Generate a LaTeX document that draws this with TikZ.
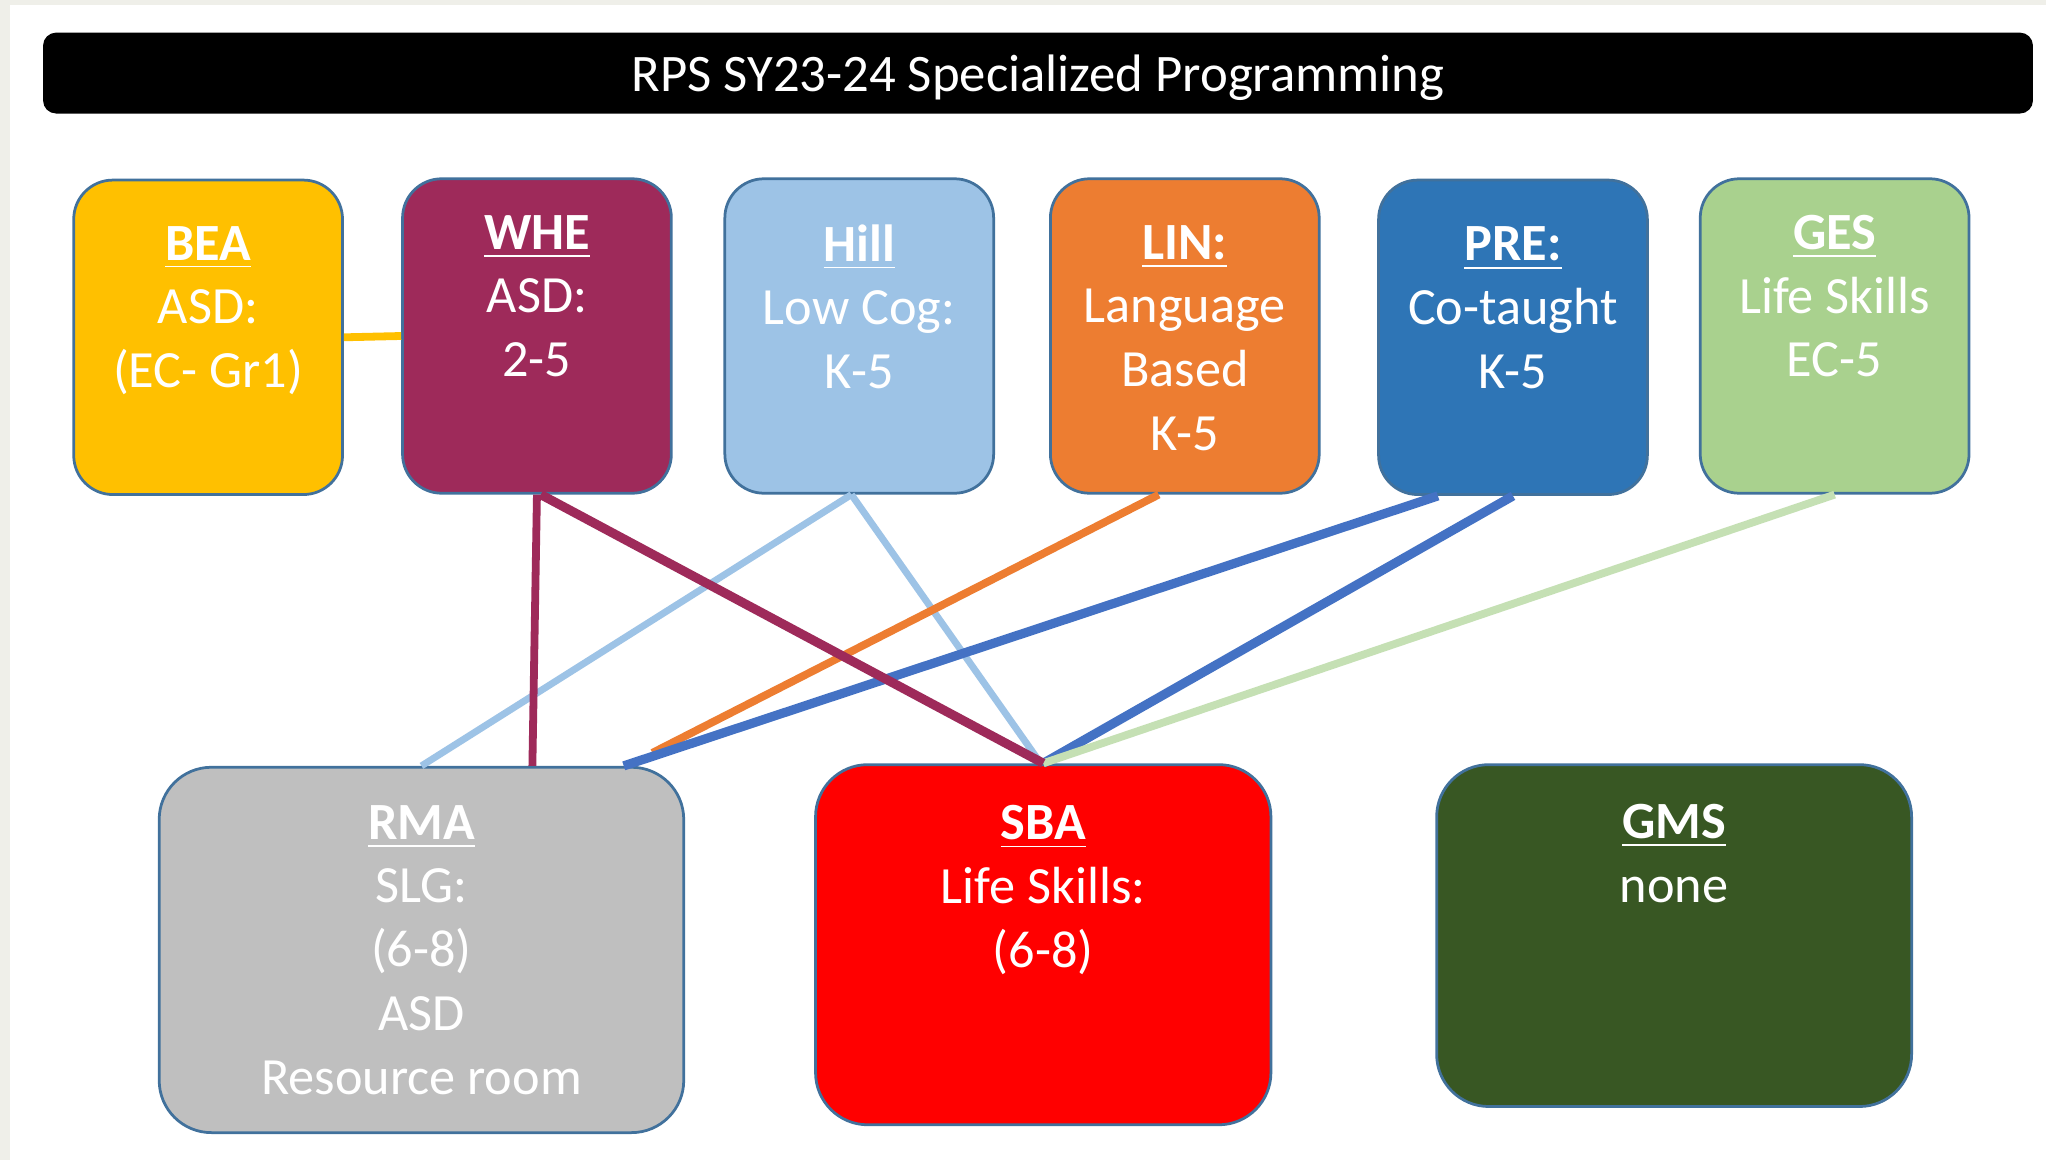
\documentclass[tikz,border=0pt]{standalone}
\usepackage{fontspec}
\setmainfont{Carlito}
\usetikzlibrary{calc}
\definecolor{bea}{HTML}{FFC000}
\definecolor{whe}{HTML}{9E2A5A}
\definecolor{hill}{HTML}{9DC3E6}
\definecolor{lin}{HTML}{ED7D31}
\definecolor{pre}{HTML}{2E75B6}
\definecolor{ges}{HTML}{A9D18E}
\definecolor{rma}{HTML}{BFBFBF}
\definecolor{sba}{HTML}{FF0000}
\definecolor{gms}{HTML}{385723}
\definecolor{edge}{HTML}{41719C}
\definecolor{preline}{HTML}{4472C4}
\definecolor{gesline}{HTML}{C5E0B4}
\definecolor{pageedge}{HTML}{EFEFE9}

\begin{document}
\begin{tikzpicture}[x=1cm, y=-1cm, line join=round,
		school/.style={draw=edge, line width=0.6pt, rounded corners=0.3cm, minimum width=2.06cm, minimum height=2.41cm, inner sep=0pt},
		bigschool/.style={school, rounded corners=0.4cm},
		names/.style={text=white, align=center, inner sep=0pt, font=\fontsize{11.4}{13.9}\selectfont},
		link/.style={line width=1.7pt, line cap=butt}]
	
	% ===== page and title bar =====
	\fill[pageedge] (0,0) rectangle (15.68,8.89);
	\fill[white] (0.08,0.04) rectangle (15.68,8.89);
	\useasboundingbox (0,0) rectangle (15.68,8.89);
	\node[fill=black, rounded corners=0.1cm, minimum width=15.25cm, minimum height=0.62cm, inner sep=0pt, text depth=0pt, text=white, font=\fontsize{11.5}{13}\selectfont] (title) at (7.955,0.56) {RPS SY23-24 Specialized Programming};
	
	% ===== elementary schools =====
	\node[school, fill=bea] (BEA) at (1.595,2.585) {};
	\node[names] (BEAtxt) at (1.595,2.38) {\underline{\textbf{BEA}}\\ASD:\\(EC- Gr1)};
	\node[school, fill=whe] (WHE) at (4.115,2.575) {};
	\node[names] (WHEtxt) at (4.115,2.27) {\underline{\textbf{WHE}}\\ASD:\\2-5};
	\node[school, fill=hill] (Hill) at (6.585,2.575) {};
	\node[names] (Hilltxt) at (6.585,2.35) {\underline{\textbf{Hill}}\\Low Cog:\\K-5};
	\node[school, fill=lin] (LIN) at (9.08,2.575) {};
	\node[names] (LINtxt) at (9.08,2.59) {\underline{\textbf{LIN:}}\\Language\\Based\\K-5};
	\node[school, fill=pre] (PRE) at (11.595,2.585) {};
	\node[names] (PREtxt) at (11.595,2.36) {\underline{\textbf{PRE:}}\\Co-taught\\K-5};
	\node[school, fill=ges] (GES) at (14.06,2.575) {};
	\node[names] (GEStxt) at (14.06,2.27) {\underline{\textbf{GES}}\\Life Skills\\EC-5};
	
	% ===== middle schools =====
	\node[bigschool, fill=rma, minimum width=4.02cm, minimum height=2.80cm] (RMA) at (3.23,7.28) {};
	\node[names] (RMAtxt) at (3.23,7.28) {\underline{\textbf{RMA}}\\SLG:\\(6-8)\\ASD\\Resource room};
	\node[bigschool, fill=sba, minimum width=3.49cm, minimum height=2.76cm] (SBA) at (7.995,7.24) {};
	\node[names] (SBAtxt) at (7.995,6.82) {\underline{\textbf{SBA}}\\Life Skills:\\(6-8)};
	\node[bigschool, fill=gms, minimum width=3.64cm, minimum height=2.62cm] (GMS) at (12.83,7.17) {};
	\node[names] (GMStxt) at (12.83,6.54) {\underline{\textbf{GMS}}\\none};
	
	% feeder lines
	\draw[link, bea] (BEA.east) -- (WHE.west);
	\draw[link, hill, line width=1.5pt] ([xshift=-0.06cm]Hill.south) -- (RMA.north);
	\draw[link, hill, line width=1.5pt] ([xshift=-0.06cm]Hill.south) -- ([xshift=-0.02cm]SBA.north);
	\draw[link, lin] ([xshift=-0.2cm]LIN.south) -- ([xshift=1.77cm, yshift=0.1cm]RMA.north);
	\draw[link, preline, line width=2pt] ([xshift=-0.575cm]PRE.south) -- ([xshift=1.55cm]RMA.north);
	\draw[link, preline, line width=2pt] (PRE.south) -- (SBA.north);
	\draw[link, gesline] (GES.south) -- (SBA.north);
	\draw[link, whe] (WHE.south) -- ([xshift=0.85cm]RMA.north);
	\draw[link, whe, line width=2pt] ([xshift=0.03cm]WHE.south) -- (SBA.north);
	
\end{tikzpicture}
\end{document}
